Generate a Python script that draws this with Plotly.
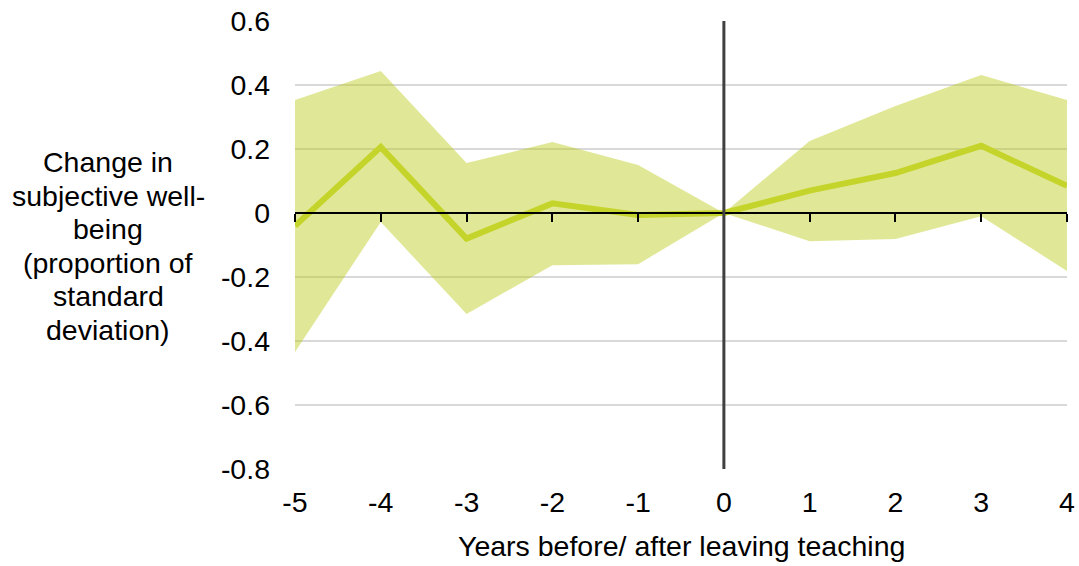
import plotly.graph_objects as go

years = [-5, -4, -3, -2, -1, 0, 1, 2, 3, 4]
estimate = [-0.04, 0.206, -0.08, 0.03, -0.006, 0.0, 0.07, 0.125, 0.21, 0.085]
upper = [0.353, 0.444, 0.156, 0.222, 0.15, 0.0, 0.225, 0.334, 0.431, 0.353]
lower = [-0.434, -0.028, -0.316, -0.163, -0.16, 0.0, -0.088, -0.081, -0.01, -0.181]
y_ticks = [0.6, 0.4, 0.2, 0, -0.2, -0.4, -0.6, -0.8]
y_tick_text = ["0.6", "0.4", "0.2", "0", "-0.2", "-0.4", "-0.6", "-0.8"]
y_title_lines = ["Change in", "subjective well-", "being", "(proportion of",
                 "standard", "deviation)"]
x_title = "Years before/ after leaving teaching"

FONT = "Liberation Sans, Arial, sans-serif"
FS = 28.5
y_min, y_max = -0.8, 0.6
W, H = 1079, 566
ML, MR, MT, MB = 295, 12, 21, 97

fig = go.Figure()
fig.add_trace(go.Scatter(x=years, y=lower, mode="lines", line=dict(width=0),
                         hoverinfo="skip", showlegend=False))
fig.add_trace(go.Scatter(x=years, y=upper, mode="lines", line=dict(width=0),
                         fill="tonexty", fillcolor="rgba(186,204,24,0.45)",
                         hoverinfo="skip", showlegend=False))
fig.add_trace(go.Scatter(x=years, y=estimate, mode="lines",
                         line=dict(color="#c5d42a", width=6), showlegend=False))
# zero axis line with ticks
fig.add_trace(go.Scatter(x=[years[0], years[-1]], y=[0, 0], xaxis="x2", mode="lines",
                         line=dict(width=0), hoverinfo="skip", showlegend=False))

fig.add_shape(type="line", x0=0, x1=0, xref="x", y0=0, y1=1, yref="paper",
              line=dict(color="#404040", width=3), layer="above")

fig.update_layout(
    width=W, height=H,
    margin=dict(l=ML, r=MR, t=MT, b=MB, autoexpand=False),
    paper_bgcolor="white", plot_bgcolor="white",
    font=dict(family=FONT, size=FS, color="#000000"),
    xaxis=dict(range=[years[0], years[-1]], tickmode="array", tickvals=years,
               ticktext=[str(v) for v in years], showgrid=False, zeroline=False,
               showline=False, ticks="", ticklabelstandoff=13, automargin=False,
               tickfont=dict(size=FS)),
    xaxis2=dict(range=[years[0], years[-1]], overlaying="x", anchor="free",
                position=(0 - y_min) / (y_max - y_min), side="bottom",
                tickmode="array", tickvals=years, showticklabels=False,
                ticks="outside", ticklen=8, tickwidth=2, tickcolor="#000000",
                showline=True, linecolor="#000000", linewidth=2, automargin=False,
                showgrid=False, zeroline=False),
    yaxis=dict(range=[y_min, y_max], tickmode="array", tickvals=y_ticks,
               ticktext=y_tick_text, showgrid=True, gridcolor="#d9d9d9",
               gridwidth=2, zeroline=False, showline=False, ticks="",
               automargin=False, ticklabelstandoff=24, tickfont=dict(size=FS)),
)

plot_h = H - MT - MB
plot_w = W - ML - MR

fig.add_annotation(text=x_title, xref="paper", yref="paper", x=0.5,
                   y=-(546 - (H - MB)) / plot_h, xanchor="center", yanchor="middle",
                   showarrow=False, font=dict(size=FS, family=FONT))

# left multi-line axis title, one annotation per line for tight line spacing
line_step = 33.5 / plot_h
center_y = (H - MB - 246) / plot_h
n = len(y_title_lines)
for i, line in enumerate(y_title_lines):
    fig.add_annotation(
        text=line, xref="paper", yref="paper",
        x=(108 - ML) / plot_w,
        y=center_y + ((n - 1) / 2 - i) * line_step,
        xanchor="center", yanchor="middle", showarrow=False,
        font=dict(size=FS, family=FONT),
    )

fig.write_html("out.html", config={"displayModeBar": False},
               post_script="document.body.style.margin='0';")
